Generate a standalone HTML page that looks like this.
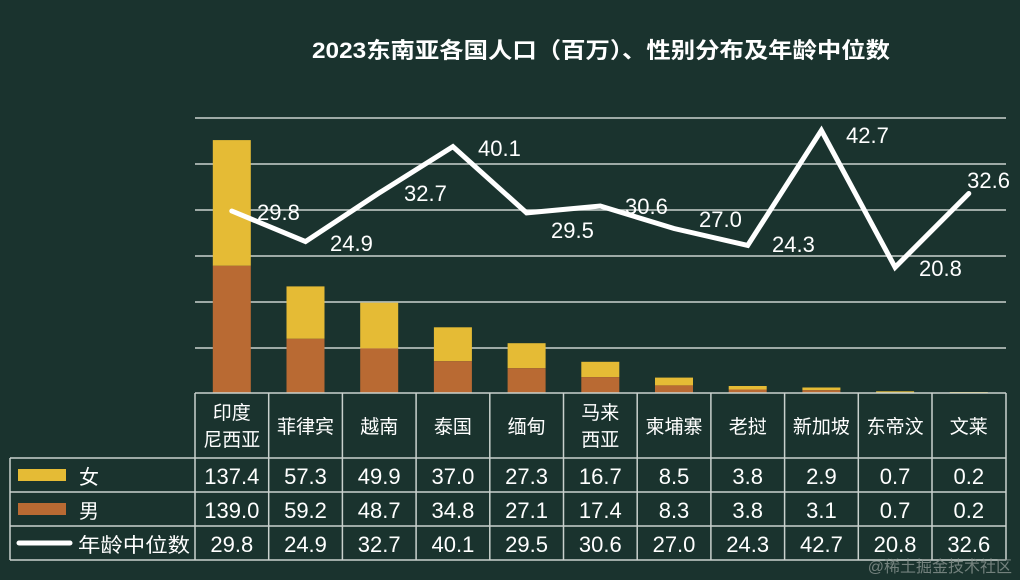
<!DOCTYPE html>
<html><head><meta charset="utf-8"><style>
html,body{margin:0;padding:0;background:#1a332e;}
svg{display:block;font-family:"Liberation Sans","Noto Sans CJK SC",sans-serif;}
</style></head><body>
<svg width="1020" height="580" viewBox="0 0 1020 580" xmlns="http://www.w3.org/2000/svg">
<rect width="1020" height="580" fill="#1a332e"/>
<text x="601" y="58" text-anchor="middle" fill="#fff" font-size="22" font-weight="bold" textLength="578" lengthAdjust="spacingAndGlyphs">2023东南亚各国人口（百万）、性别分布及年龄中位数</text>
<g stroke="#c9d1cd" stroke-width="1.5">
<line x1="195" y1="118" x2="1006" y2="118"/>
<line x1="195" y1="164" x2="1006" y2="164"/>
<line x1="195" y1="210" x2="1006" y2="210"/>
<line x1="195" y1="256" x2="1006" y2="256"/>
<line x1="195" y1="302" x2="1006" y2="302"/>
<line x1="195" y1="348" x2="1006" y2="348"/>
</g>
<g>
<rect x="212.8" y="140.1" width="38" height="125.7" fill="#e5bb35"/><rect x="212.8" y="265.8" width="38" height="127.2" fill="#b96a33"/>
<rect x="286.5" y="286.4" width="38" height="52.4" fill="#e5bb35"/><rect x="286.5" y="338.8" width="38" height="54.2" fill="#b96a33"/>
<rect x="360.2" y="302.7" width="38" height="45.7" fill="#e5bb35"/><rect x="360.2" y="348.4" width="38" height="44.6" fill="#b96a33"/>
<rect x="433.9" y="327.3" width="38" height="33.9" fill="#e5bb35"/><rect x="433.9" y="361.2" width="38" height="31.8" fill="#b96a33"/>
<rect x="507.6" y="343.2" width="38" height="25" fill="#e5bb35"/><rect x="507.6" y="368.2" width="38" height="24.8" fill="#b96a33"/>
<rect x="581.3" y="361.8" width="38" height="15.3" fill="#e5bb35"/><rect x="581.3" y="377.1" width="38" height="15.9" fill="#b96a33"/>
<rect x="655" y="377.6" width="38" height="7.8" fill="#e5bb35"/><rect x="655" y="385.4" width="38" height="7.6" fill="#b96a33"/>
<rect x="728.7" y="386" width="38" height="3.5" fill="#e5bb35"/><rect x="728.7" y="389.5" width="38" height="3.5" fill="#b96a33"/>
<rect x="802.4" y="387.5" width="38" height="2.7" fill="#e5bb35"/><rect x="802.4" y="390.2" width="38" height="2.8" fill="#b96a33"/>
<rect x="876.1" y="391.3" width="38" height="1.7" fill="#e5bb35"/>
<rect x="949.8" y="392" width="38" height="1" fill="#e5bb35"/>
</g>
<polyline fill="none" stroke="#fff" stroke-width="5" stroke-linejoin="miter" stroke-linecap="round"
points="231.8,211 305.5,241.6 379.2,192.9 452.9,146.6 526.6,212.9 600.3,206 674,228.5 747.7,245.4 821.4,130.4 895.1,267.3 968.8,193.5"/>
<g fill="#fff" font-size="22">
<text x="257" y="220">29.8</text>
<text x="330" y="251">24.9</text>
<text x="404" y="201">32.7</text>
<text x="478" y="156">40.1</text>
<text x="551" y="238">29.5</text>
<text x="625" y="214">30.6</text>
<text x="699" y="227">27.0</text>
<text x="772" y="252">24.3</text>
<text x="846" y="143">42.7</text>
<text x="919" y="276">20.8</text>
<text x="1010" y="188" text-anchor="end">32.6</text>
</g>
<g stroke="#c9d1cd" stroke-width="1.5" fill="none">
<line x1="195" y1="393" x2="1006" y2="393"/>
<line x1="10" y1="458" x2="1006" y2="458"/>
<line x1="10" y1="492" x2="1006" y2="492"/>
<line x1="10" y1="526" x2="1006" y2="526"/>
<line x1="10" y1="560" x2="1006" y2="560"/>
<line x1="10" y1="458" x2="10" y2="560"/>
<line x1="195" y1="393" x2="195" y2="560"/>
<line x1="268.7" y1="393" x2="268.7" y2="560"/>
<line x1="342.4" y1="393" x2="342.4" y2="560"/>
<line x1="416.1" y1="393" x2="416.1" y2="560"/>
<line x1="489.8" y1="393" x2="489.8" y2="560"/>
<line x1="563.5" y1="393" x2="563.5" y2="560"/>
<line x1="637.2" y1="393" x2="637.2" y2="560"/>
<line x1="710.9" y1="393" x2="710.9" y2="560"/>
<line x1="784.6" y1="393" x2="784.6" y2="560"/>
<line x1="858.3" y1="393" x2="858.3" y2="560"/>
<line x1="932" y1="393" x2="932" y2="560"/>
<line x1="1006" y1="393" x2="1006" y2="560"/>
</g>
<g fill="#fff" font-size="19" text-anchor="middle">
<text x="231.8" y="419">印度</text><text x="231.8" y="446">尼西亚</text>
<text x="305.5" y="433">菲律宾</text>
<text x="379.2" y="433">越南</text>
<text x="452.9" y="433">泰国</text>
<text x="526.6" y="433">缅甸</text>
<text x="600.3" y="419">马来</text><text x="600.3" y="446">西亚</text>
<text x="674" y="433">柬埔寨</text>
<text x="747.7" y="433">老挝</text>
<text x="821.4" y="433">新加坡</text>
<text x="895.1" y="433">东帝汶</text>
<text x="968.8" y="433">文莱</text>
</g>
<g fill="#fff" font-size="22" text-anchor="middle">
<text x="231.8" y="484">137.4</text><text x="305.5" y="484">57.3</text><text x="379.2" y="484">49.9</text><text x="452.9" y="484">37.0</text><text x="526.6" y="484">27.3</text><text x="600.3" y="484">16.7</text><text x="674" y="484">8.5</text><text x="747.7" y="484">3.8</text><text x="821.4" y="484">2.9</text><text x="895.1" y="484">0.7</text><text x="968.8" y="484">0.2</text>
<text x="231.8" y="518">139.0</text><text x="305.5" y="518">59.2</text><text x="379.2" y="518">48.7</text><text x="452.9" y="518">34.8</text><text x="526.6" y="518">27.1</text><text x="600.3" y="518">17.4</text><text x="674" y="518">8.3</text><text x="747.7" y="518">3.8</text><text x="821.4" y="518">3.1</text><text x="895.1" y="518">0.7</text><text x="968.8" y="518">0.2</text>
<text x="231.8" y="552">29.8</text><text x="305.5" y="552">24.9</text><text x="379.2" y="552">32.7</text><text x="452.9" y="552">40.1</text><text x="526.6" y="552">29.5</text><text x="600.3" y="552">30.6</text><text x="674" y="552">27.0</text><text x="747.7" y="552">24.3</text><text x="821.4" y="552">42.7</text><text x="895.1" y="552">20.8</text><text x="968.8" y="552">32.6</text>
</g>
<rect x="18" y="469" width="48" height="12" fill="#e5bb35"/>
<rect x="18" y="503" width="48" height="12" fill="#b96a33"/>
<line x1="19" y1="543" x2="70" y2="543" stroke="#fff" stroke-width="5" stroke-linecap="round"/>
<g fill="#fff" font-size="20">
<text x="79" y="484">女</text>
<text x="79" y="518">男</text>
<text x="78" y="552" textLength="112" lengthAdjust="spacingAndGlyphs">年龄中位数</text>
</g>
<text x="1012" y="572" text-anchor="end" fill="#8a9591" font-size="16" opacity="0.8">@稀土掘金技术社区</text>
</svg>
</body></html>
